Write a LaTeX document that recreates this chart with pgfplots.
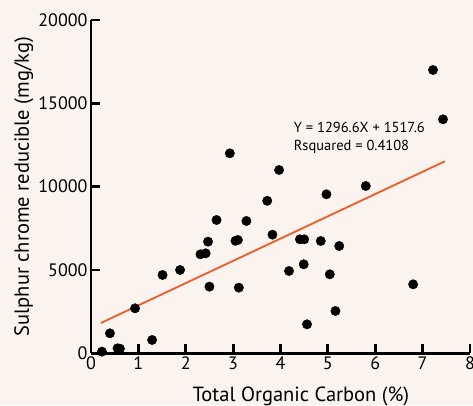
\documentclass[border=0pt]{standalone}
\usepackage{fontspec}
\setmainfont{PT Sans}
\usepackage{pgfplots}
\pgfplotsset{compat=1.18}
\definecolor{bg}{HTML}{FAF3EE}
\definecolor{fitline}{HTML}{F15A29}

\begin{document}
\begin{tikzpicture}[x=1pt,y=1pt]
\fill[bg] (-91,-51.7) rectangle (382,353.3);
\useasboundingbox (-91,-51.7) rectangle (382,353.3);
\begin{axis}[
  at={(0,0)}, anchor=south west,
  scale only axis, width=379pt, height=333.3pt,
  xmin=0, xmax=8, ymin=0, ymax=20000,
  clip=false,
  axis lines=left,
  axis line style={line width=2.8pt, -},
  every tick/.style={black, line width=2.8pt},
  major tick length=9pt,
  tick align=inside,
  xtick={0,1,...,8},
  ytick={0,5000,10000,15000,20000},
  scaled y ticks=false,
  /pgf/number format/assume math mode=true,
  /pgf/number format/set thousands separator={},
  tick label style={font=\fontsize{18}{20}\selectfont},
  label style={font=\fontsize{20.5}{24}\selectfont},
  xlabel={Total Organic Carbon (\%)},
  ylabel={Sulphur chrome reducible (mg/kg)},
  xlabel style={at={(axis description cs:0.554,0)}, anchor=base, yshift=-48.4pt},
  ylabel style={at={(axis description cs:-0.1636,0.5)}, anchor=base},
]
% measured samples
\addplot[only marks, mark=*, mark size=4.7pt, mark options={fill=black, draw=none}] coordinates {
(0.23,100) (0.40,1200) (0.56,300) (0.61,280) (0.93,2700) (1.29,800)
(1.51,4700) (1.88,5000) (2.31,5940) (2.42,6000) (2.47,6700) (2.50,4000)
(2.65,8000) (2.93,12000) (3.05,6750) (3.10,6800) (3.12,3940) (3.28,7940)
(3.72,9150) (3.83,7120) (3.97,11000) (4.18,4940) (4.41,6840) (4.50,6840)
(4.49,5340) (4.56,1740) (4.85,6740) (4.97,9540) (5.04,4740) (5.16,2540)
(5.24,6440) (5.80,10040) (6.80,4140) (7.22,17000) (7.43,14040)
};
% least-squares trend line
\addplot[fitline, line width=1.8pt] coordinates {(0.21,1820) (7.47,11520)};
\node[anchor=base west, inner sep=0, font=\fontsize{14.5}{17}\selectfont] at (axis cs:4.28,13236) {Y = 1296.6X + 1517.6};
\node[anchor=base west, inner sep=0, font=\fontsize{14.5}{17}\selectfont] at (axis cs:4.28,12198) {Rsquared = 0.4108};
\end{axis}
\end{tikzpicture}
\end{document}
